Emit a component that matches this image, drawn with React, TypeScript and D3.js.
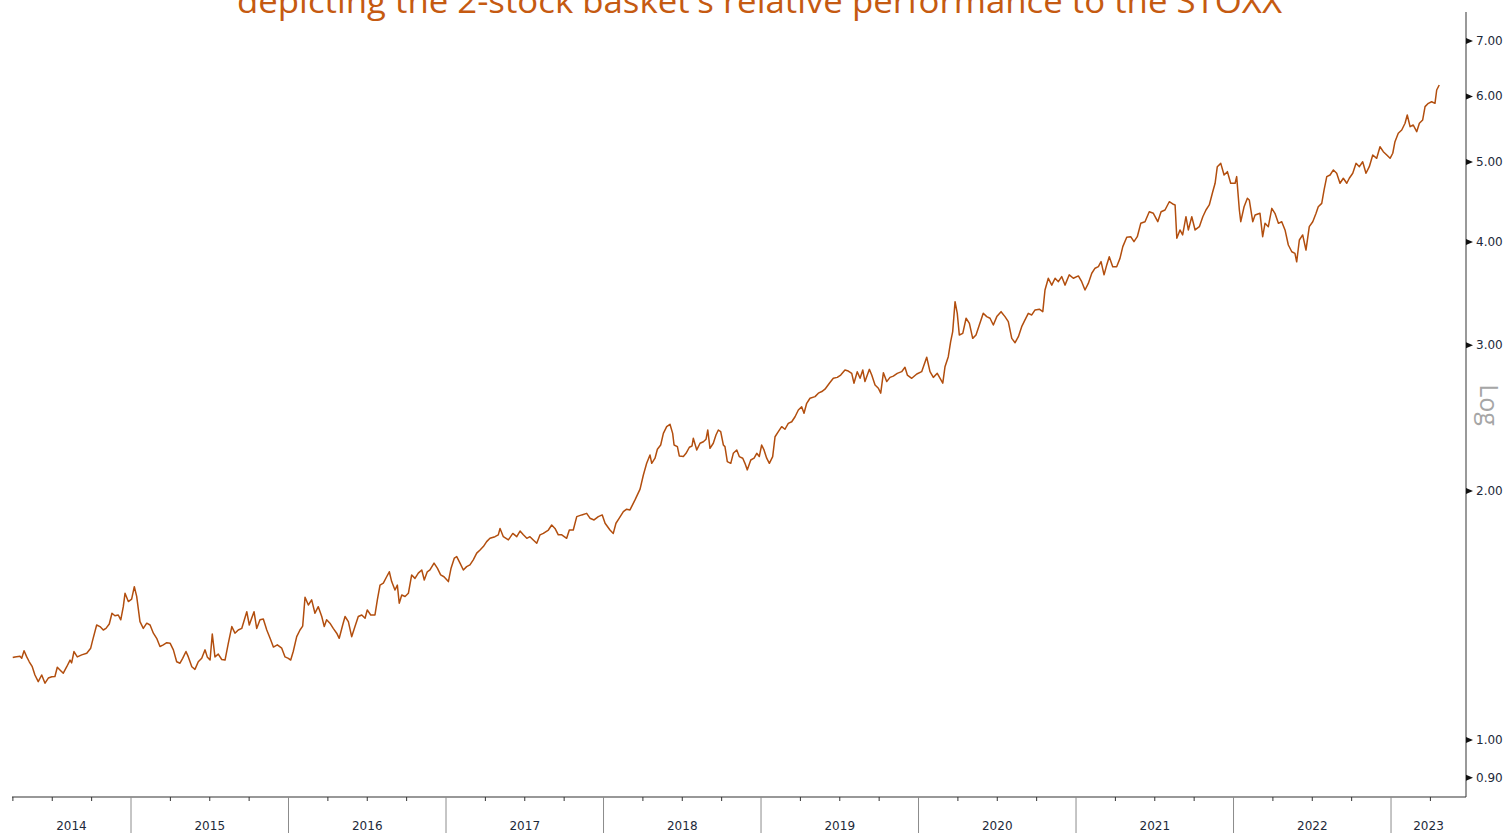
import React from "react";
import * as d3 from "d3";

// decimal years and basket / STOXX relative value
const dates = [
  2014.249, 2014.263, 2014.295, 2014.306, 2014.321, 2014.338, 2014.354, 2014.373, 2014.39, 2014.411,
  2014.433, 2014.454, 2014.475, 2014.497, 2014.517, 2014.532, 2014.549, 2014.57, 2014.592, 2014.613,
  2014.623, 2014.638, 2014.659, 2014.687, 2014.719, 2014.744, 2014.757, 2014.782, 2014.803, 2014.824,
  2014.841, 2014.862, 2014.879, 2014.898, 2014.919, 2014.935, 2014.951, 2014.962, 2014.983,
  2015.004, 2015.021, 2015.036, 2015.057, 2015.078, 2015.1, 2015.121, 2015.142, 2015.163, 2015.184,
  2015.205, 2015.227, 2015.248, 2015.269, 2015.29, 2015.311, 2015.328, 2015.349, 2015.364, 2015.386,
  2015.406, 2015.427, 2015.449, 2015.47, 2015.484, 2015.502, 2015.516, 2015.533, 2015.554, 2015.576,
  2015.597, 2015.618, 2015.64, 2015.66, 2015.681, 2015.703, 2015.735, 2015.751, 2015.766, 2015.781,
  2015.798, 2015.819, 2015.84, 2015.862, 2015.883, 2015.904, 2015.929, 2015.957, 2015.978, 2015.999,
  2016.014, 2016.03, 2016.052, 2016.073, 2016.09, 2016.105, 2016.126, 2016.147, 2016.168, 2016.189,
  2016.211, 2016.227, 2016.242, 2016.263, 2016.284, 2016.306, 2016.322, 2016.344, 2016.359, 2016.38,
  2016.401, 2016.422, 2016.443, 2016.465, 2016.486, 2016.5, 2016.522, 2016.549, 2016.564, 2016.581,
  2016.602, 2016.623, 2016.64, 2016.655, 2016.676, 2016.691, 2016.703, 2016.719, 2016.74, 2016.761,
  2016.782, 2016.803, 2016.824, 2016.846, 2016.862, 2016.881, 2016.898, 2016.924, 2016.945, 2016.966,
  2016.987,
  2017.015, 2017.032, 2017.053, 2017.068, 2017.089, 2017.11, 2017.131, 2017.152, 2017.173, 2017.195,
  2017.216, 2017.237, 2017.258, 2017.279, 2017.311, 2017.332, 2017.343, 2017.364, 2017.396, 2017.424,
  2017.449, 2017.47, 2017.491, 2017.513, 2017.533, 2017.554, 2017.576, 2017.597, 2017.618, 2017.65,
  2017.671, 2017.692, 2017.713, 2017.735, 2017.766, 2017.783, 2017.808, 2017.83, 2017.862, 2017.893,
  2017.914, 2017.94, 2017.967, 2017.992,
  2018.01, 2018.041, 2018.062, 2018.079, 2018.1, 2018.126, 2018.147, 2018.168, 2018.2, 2018.232,
  2018.253, 2018.274, 2018.295, 2018.306, 2018.327, 2018.342, 2018.363, 2018.38, 2018.401, 2018.422,
  2018.439, 2018.448, 2018.469, 2018.481, 2018.507, 2018.524, 2018.545, 2018.562, 2018.57, 2018.592,
  2018.613, 2018.634, 2018.651, 2018.662, 2018.676, 2018.697, 2018.714, 2018.729, 2018.744, 2018.761,
  2018.771, 2018.786, 2018.808, 2018.824, 2018.846, 2018.862, 2018.884, 2018.898, 2018.913, 2018.935,
  2018.956, 2018.973, 2018.989,
  2019.004, 2019.019, 2019.036, 2019.053, 2019.074, 2019.089, 2019.11, 2019.131, 2019.152, 2019.173,
  2019.195, 2019.216, 2019.237, 2019.258, 2019.273, 2019.29, 2019.311, 2019.343, 2019.364, 2019.386,
  2019.406, 2019.434, 2019.459, 2019.484, 2019.506, 2019.533, 2019.554, 2019.576, 2019.59, 2019.611,
  2019.629, 2019.646, 2019.66, 2019.688, 2019.703, 2019.724, 2019.745, 2019.76, 2019.777, 2019.798,
  2019.819, 2019.84, 2019.865, 2019.893, 2019.914, 2019.929, 2019.957, 2019.989,
  2020.02, 2020.052, 2020.073, 2020.094, 2020.119, 2020.137, 2020.154, 2020.168, 2020.189, 2020.204,
  2020.217, 2020.232, 2020.246, 2020.259, 2020.281, 2020.302, 2020.323, 2020.344, 2020.365, 2020.386,
  2020.411, 2020.433, 2020.454, 2020.475, 2020.497, 2020.524, 2020.549, 2020.57, 2020.592, 2020.613,
  2020.634, 2020.655, 2020.676, 2020.697, 2020.719, 2020.74, 2020.767, 2020.789, 2020.803, 2020.824,
  2020.846, 2020.867, 2020.888, 2020.909, 2020.93, 2020.957, 2020.983,
  2021.015, 2021.036, 2021.057, 2021.078, 2021.1, 2021.121, 2021.142, 2021.159, 2021.178, 2021.195,
  2021.211, 2021.233, 2021.258, 2021.279, 2021.297, 2021.322, 2021.347, 2021.368, 2021.389, 2021.411,
  2021.438, 2021.465, 2021.491, 2021.519, 2021.54, 2021.565, 2021.592, 2021.614, 2021.629, 2021.64,
  2021.66, 2021.677, 2021.698, 2021.713, 2021.735, 2021.756, 2021.783, 2021.805, 2021.825, 2021.846,
  2021.868, 2021.883, 2021.897, 2021.919, 2021.94, 2021.961, 2021.982,
  2022.01, 2022.02, 2022.037, 2022.046, 2022.067, 2022.088, 2022.1, 2022.122, 2022.137, 2022.168,
  2022.185, 2022.2, 2022.221, 2022.243, 2022.263, 2022.285, 2022.306, 2022.327, 2022.348, 2022.37,
  2022.39, 2022.401, 2022.418, 2022.439, 2022.46, 2022.481, 2022.503, 2022.524, 2022.538, 2022.56,
  2022.575, 2022.592, 2022.613, 2022.634, 2022.655, 2022.676, 2022.697, 2022.719, 2022.735, 2022.757,
  2022.778, 2022.799, 2022.82, 2022.841, 2022.862, 2022.884, 2022.909, 2022.93, 2022.951, 2022.973,
  2022.994,
  2023.011, 2023.025, 2023.046, 2023.068, 2023.089, 2023.103, 2023.121, 2023.141, 2023.163, 2023.18,
  2023.201, 2023.216, 2023.237, 2023.258, 2023.279, 2023.29, 2023.306,
];

const ratio = [
  1.258, 1.26, 1.262, 1.255, 1.282, 1.26, 1.243, 1.226, 1.198, 1.176,
  1.198, 1.171, 1.188, 1.192, 1.193, 1.224, 1.215, 1.204, 1.226, 1.249,
  1.239, 1.279, 1.26, 1.267, 1.273, 1.291, 1.321, 1.377, 1.371, 1.358,
  1.364, 1.381, 1.423, 1.413, 1.416, 1.397, 1.449, 1.504, 1.47,
  1.48, 1.532, 1.491, 1.39, 1.364, 1.384, 1.377, 1.346, 1.327, 1.297,
  1.303, 1.311, 1.309, 1.285, 1.243, 1.238, 1.255, 1.279, 1.26, 1.226,
  1.217, 1.243, 1.255, 1.285, 1.26, 1.249, 1.343, 1.26, 1.27, 1.251,
  1.249, 1.309, 1.371, 1.346, 1.358, 1.364, 1.429, 1.377, 1.403, 1.429,
  1.364, 1.397, 1.4, 1.358, 1.327, 1.295, 1.303, 1.291, 1.26, 1.255,
  1.249, 1.279, 1.333, 1.358, 1.373, 1.488, 1.456, 1.477, 1.423, 1.449,
  1.41, 1.371, 1.397, 1.384, 1.364, 1.346, 1.327, 1.377, 1.41, 1.39,
  1.333, 1.371, 1.41, 1.416, 1.403, 1.436, 1.416, 1.416, 1.477, 1.539,
  1.547, 1.575, 1.597, 1.554, 1.518, 1.539, 1.463, 1.497, 1.491, 1.504,
  1.583, 1.568, 1.591, 1.605, 1.561, 1.597, 1.605, 1.636, 1.613, 1.583,
  1.575,
  1.554, 1.613, 1.659, 1.666, 1.636, 1.605, 1.62, 1.628, 1.651, 1.682,
  1.697, 1.713, 1.737, 1.753, 1.761, 1.77, 1.802, 1.761, 1.745, 1.777,
  1.761, 1.789, 1.77, 1.753, 1.761, 1.745, 1.729, 1.77, 1.777, 1.794,
  1.819, 1.802, 1.77, 1.77, 1.753, 1.794, 1.794, 1.862, 1.871, 1.879,
  1.854, 1.845, 1.862, 1.871,
  1.828, 1.794, 1.777, 1.828, 1.854, 1.888, 1.901, 1.897, 1.951, 2.01,
  2.091, 2.16, 2.211, 2.16, 2.191, 2.246, 2.273, 2.348, 2.392, 2.408,
  2.348, 2.273, 2.263, 2.205, 2.201, 2.221, 2.259, 2.267, 2.316, 2.242,
  2.284, 2.294, 2.31, 2.37, 2.252, 2.284, 2.337, 2.37, 2.359, 2.273,
  2.263, 2.17, 2.16, 2.221, 2.242, 2.201, 2.191, 2.16, 2.121, 2.18,
  2.191, 2.221, 2.201,
  2.273, 2.242, 2.191, 2.16, 2.201, 2.326, 2.359, 2.392, 2.375, 2.414,
  2.425, 2.459, 2.506, 2.529, 2.483, 2.553, 2.589, 2.601, 2.626, 2.638,
  2.655, 2.7, 2.737, 2.744, 2.762, 2.801, 2.793, 2.775, 2.7, 2.788,
  2.737, 2.801, 2.712, 2.806, 2.762, 2.686, 2.662, 2.626, 2.78, 2.712,
  2.744, 2.754, 2.775, 2.788, 2.822, 2.762, 2.737, 2.77,
  2.788, 2.902, 2.788, 2.744, 2.775, 2.737, 2.7, 2.826, 2.907, 3.031,
  3.117, 3.388, 3.28, 3.088, 3.102, 3.235, 3.19, 3.059, 3.088, 3.175,
  3.28, 3.25, 3.235, 3.175, 3.25, 3.295, 3.25, 3.205, 3.059, 3.022,
  3.073, 3.16, 3.22, 3.28, 3.265, 3.311, 3.318, 3.295, 3.5, 3.616,
  3.548, 3.616, 3.582, 3.633, 3.548, 3.651, 3.616,
  3.64, 3.582, 3.5, 3.565, 3.667, 3.719, 3.735, 3.788, 3.651, 3.753,
  3.84, 3.735, 3.735, 3.822, 3.949, 4.053, 4.06, 4.004, 4.06, 4.214,
  4.233, 4.352, 4.333, 4.233, 4.352, 4.373, 4.475, 4.447, 4.435, 4.042,
  4.137, 4.08, 4.292, 4.137, 4.292, 4.137, 4.175, 4.292, 4.373, 4.435,
  4.602, 4.711, 4.934, 4.98, 4.821, 4.866, 4.711,
  4.711, 4.799, 4.373, 4.233, 4.413, 4.518, 4.497, 4.233, 4.312, 4.333,
  4.06, 4.214, 4.175, 4.393, 4.333, 4.214, 4.233, 4.137, 3.967, 3.893,
  3.875, 3.786, 4.023, 4.08, 3.912, 4.175, 4.233, 4.333, 4.413, 4.455,
  4.624, 4.799, 4.821, 4.889, 4.844, 4.711, 4.777, 4.711, 4.777, 4.844,
  4.98, 4.934, 5.002, 4.844, 4.934, 5.097, 5.05, 5.216, 5.144, 5.097,
  5.05,
  5.122, 5.289, 5.414, 5.464, 5.568, 5.697, 5.515, 5.541, 5.439, 5.568,
  5.619, 5.832, 5.886, 5.912, 5.886, 6.108, 6.194,
];

const yTicks = [0.9, 1, 2, 3, 4, 5, 6, 7];
const years = [2014, 2015, 2016, 2017, 2018, 2019, 2020, 2021, 2022, 2023];
const xDomain: [number, number] = [2014.2444, 2023.476];
const yDomain: [number, number] = [0.853, 7.59];

const title = "depicting the 2-stock basket's relative performance to the STOXX";

const W = 1506;
const H = 833;
const plot = { left: 12, right: 1466, top: 12, bottom: 797 };
const axisFont = "'DejaVu Sans', Verdana, sans-serif";

export default function App() {
  const x = d3.scaleLinear().domain(xDomain).range([plot.left, plot.right]);
  const y = d3.scaleLog().domain(yDomain).range([plot.bottom, plot.top]);

  const line = d3
    .line<number>()
    .x((_, i) => x(dates[i]))
    .y((d) => y(d));

  // quarter ticks inside the domain
  const quarterTicks: number[] = [];
  years.forEach((yr) => {
    [0.25, 0.5, 0.75].forEach((q) => {
      const t = yr + q;
      if (t >= xDomain[0] - 0.01 && t <= xDomain[1]) quarterTicks.push(t);
    });
  });
  const yearLines = years.filter((yr) => yr > xDomain[0]);

  return (
    <div style={{ position: "fixed", left: 0, top: 0, width: W, height: H, background: "#fff" }}>
      <svg width={W} height={H} style={{ display: "block" }}>
        <rect width={W} height={H} fill="#fff" />

        {/* title, cut off at the top edge as in the source */}
        <text
          x={759.5}
          y={13}
          textAnchor="middle"
          fontFamily="'Open Sans', 'Noto Sans', sans-serif"
          fontSize={32}
          fill="#c55a11"
          textLength={1045}
          lengthAdjust="spacingAndGlyphs"
        >
          {title}
        </text>

        {/* series */}
        <path d={line(ratio) ?? ""} fill="none" stroke="#b24e0e" strokeWidth={1.5} strokeLinejoin="round" />

        {/* right value axis */}
        <line x1={plot.right} x2={plot.right} y1={plot.top} y2={plot.bottom} stroke="#555" strokeWidth={1.2} />
        {yTicks.map((v) => {
          const yy = y(v);
          return (
            <g key={v}>
              <path d={`M${plot.right},${yy - 3}L${plot.right + 7},${yy}L${plot.right},${yy + 3}Z`} fill="#111" />
              <text
                x={plot.right + 10}
                y={yy}
                dominantBaseline="central"
                fontFamily={axisFont}
                fontSize={12}
                fill="#1d2a3a"
              >
                {v.toFixed(2)}
              </text>
            </g>
          );
        })}
        <text
          transform={`translate(1480,405) rotate(90)`}
          textAnchor="middle"
          fontFamily="'Open Sans', 'Noto Sans', sans-serif"
          fontSize={25}
          fill="#a6a6a6"
        >
          Log
        </text>

        {/* bottom time axis */}
        <line x1={plot.left} x2={plot.right} y1={plot.bottom} y2={plot.bottom} stroke="#333" strokeWidth={1.2} />
        {quarterTicks.map((t) => (
          <line key={t} x1={x(t)} x2={x(t)} y1={plot.bottom} y2={plot.bottom + 4} stroke="#333" strokeWidth={1} />
        ))}
        {yearLines.map((yr) => (
          <line key={yr} x1={x(yr)} x2={x(yr)} y1={plot.bottom} y2={H} stroke="#8c8c8c" strokeWidth={1} />
        ))}
        {years.map((yr) => {
          const a = Math.max(yr, xDomain[0]);
          const b = Math.min(yr + 1, xDomain[1]);
          return (
            <text
              key={yr}
              x={(x(a) + x(b)) / 2}
              y={830}
              textAnchor="middle"
              fontFamily={axisFont}
              fontSize={12}
              fill="#1d2a3a"
            >
              {yr}
            </text>
          );
        })}
      </svg>
    </div>
  );
}
